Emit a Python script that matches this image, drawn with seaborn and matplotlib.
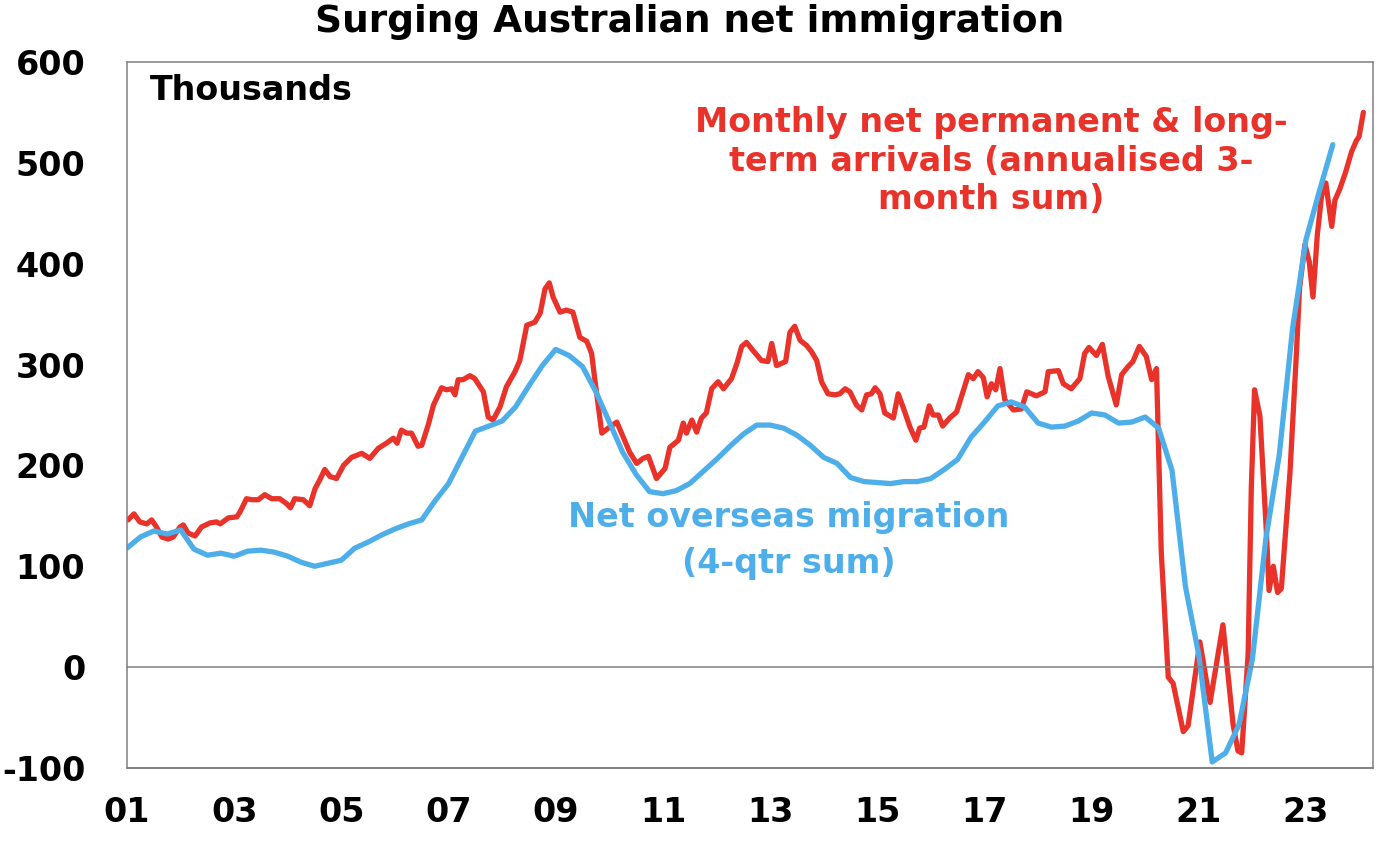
import numpy as np
import pandas as pd
import matplotlib
matplotlib.use("Agg")
import matplotlib.pyplot as plt
import seaborn as sns

# =====================
# Data (thousands)
# =====================

# Monthly net permanent & long-term arrivals (annualised 3-month sum)
plta_year = [
    2001.02, 2001.13, 2001.24, 2001.37, 2001.46, 2001.55, 2001.65, 2001.77, 2001.86, 2001.99,
    2002.05, 2002.14, 2002.27, 2002.39, 2002.55, 2002.67, 2002.74, 2002.89, 2003.05, 2003.11,
    2003.23, 2003.33, 2003.45, 2003.57, 2003.70, 2003.85, 2003.98, 2004.05, 2004.13, 2004.29,
    2004.41, 2004.51, 2004.60, 2004.69, 2004.79, 2004.91, 2005.04, 2005.19, 2005.38, 2005.53,
    2005.69, 2005.84, 2005.97, 2006.04, 2006.12, 2006.22, 2006.31, 2006.43, 2006.50, 2006.62,
    2006.72, 2006.87, 2006.96, 2007.06, 2007.12, 2007.18, 2007.27, 2007.40, 2007.49, 2007.65,
    2007.74, 2007.83, 2007.96, 2008.08, 2008.24, 2008.33, 2008.46, 2008.61, 2008.71, 2008.80,
    2008.88, 2008.95, 2009.08, 2009.20, 2009.32, 2009.45, 2009.58, 2009.67, 2009.73, 2009.86,
    2009.98, 2010.14, 2010.26, 2010.38, 2010.51, 2010.63, 2010.73, 2010.88, 2011.04, 2011.13,
    2011.29, 2011.38, 2011.44, 2011.54, 2011.63, 2011.72, 2011.81, 2011.91, 2012.03, 2012.13,
    2012.28, 2012.38, 2012.47, 2012.56, 2012.68, 2012.84, 2012.96, 2013.03, 2013.12, 2013.29,
    2013.37, 2013.46, 2013.56, 2013.68, 2013.77, 2013.87, 2013.96, 2014.08, 2014.21, 2014.30,
    2014.40, 2014.49, 2014.61, 2014.71, 2014.80, 2014.89, 2014.96, 2015.05, 2015.14, 2015.30,
    2015.39, 2015.48, 2015.61, 2015.72, 2015.79, 2015.87, 2015.97, 2016.04, 2016.14, 2016.22,
    2016.35, 2016.48, 2016.57, 2016.70, 2016.79, 2016.88, 2016.98, 2017.05, 2017.13, 2017.21,
    2017.29, 2017.38, 2017.54, 2017.69, 2017.79, 2017.97, 2018.13, 2018.19, 2018.38, 2018.47,
    2018.62, 2018.78, 2018.87, 2018.95, 2019.09, 2019.20, 2019.31, 2019.46, 2019.56, 2019.68,
    2019.77, 2019.89, 2020.02, 2020.12, 2020.21, 2020.30, 2020.43, 2020.52, 2020.71, 2020.80,
    2021.02, 2021.21, 2021.45, 2021.64, 2021.73, 2021.80, 2021.92, 2021.98, 2022.04, 2022.14,
    2022.26, 2022.31, 2022.39, 2022.47, 2022.54, 2022.70, 2022.82, 2022.88, 2022.98, 2023.06,
    2023.13, 2023.21, 2023.29, 2023.37, 2023.48, 2023.54, 2023.63, 2023.74, 2023.85, 2023.94,
    2023.99, 2024.07,
]
plta_value = [
    146, 152, 144, 142, 146, 139, 129, 127, 129, 139,
    141, 133, 130, 139, 143, 144, 142, 148, 149, 154,
    167, 166, 166, 171, 167, 167, 162, 158, 167, 166,
    160, 177, 186, 196, 189, 187, 200, 208, 212, 207,
    217, 222, 227, 222, 235, 232, 232, 219, 220, 240,
    260, 277, 275, 276, 270, 285, 285, 289, 286, 273,
    248, 245, 258, 278, 293, 304, 339, 342, 351, 375,
    381, 367, 352, 354, 352, 327, 323, 311, 285, 232,
    237, 243, 228, 213, 202, 207, 209, 187, 197, 218,
    225, 242, 232, 245, 233, 247, 252, 276, 283, 276,
    286, 301, 318, 322, 314, 304, 303, 321, 299, 303,
    332, 338, 324, 319, 313, 304, 283, 271, 270, 271,
    276, 273, 260, 255, 270, 271, 277, 271, 252, 247,
    271, 258, 238, 225, 237, 238, 259, 250, 250, 239,
    247, 253, 268, 290, 286, 293, 287, 268, 281, 275,
    296, 265, 255, 256, 273, 269, 273, 293, 294, 281,
    276, 286, 311, 317, 309, 320, 288, 260, 290, 298,
    303, 318, 308, 285, 296, 113, -10, -16, -64, -58,
    25, -35, 42, -57, -83, -85, 13, 179, 275, 249,
    135, 76, 100, 74, 78, 192, 310, 376, 419, 402,
    367, 428, 467, 480, 437, 463, 474, 491, 511, 522,
    526, 550,
]

# Net overseas migration (4-qtr sum), quarterly from 2001 Q1
nom_value = [
    118, 129, 135, 132,
    136, 117, 111, 113,
    110, 115, 116, 114,
    110, 104, 100, 103,
    106, 118, 124, 131,
    137, 142, 146, 165,
    182, 208, 234, 239,
    244, 258, 279, 299,
    315, 309, 298, 273,
    243, 213, 191, 174,
    172, 175, 182, 194,
    206, 219, 231, 240,
    240, 237, 230, 220,
    208, 202, 188, 184,
    183, 182, 184, 184,
    187, 196, 206, 228,
    243, 259, 263, 258,
    242, 238, 239, 244,
    252, 250, 242, 243,
    248, 237, 195, 80,
    12, -94, -85, -57,
    8, 127, 210, 336,
    424, 472, 518,
]
nom_year = 2001.0 + 0.25 * np.arange(len(nom_value))

year_ticks = list(range(2001, 2024, 2))
year_labels = [f"{y % 100:02d}" for y in year_ticks]
value_ticks = [-100, 0, 100, 200, 300, 400, 500, 600]

RED = "#E8322A"
BLUE = "#4DAEEA"
GREY = "#808080"

# =====================
# Plot
# =====================
sns.set_style("white")
plt.rcParams['font.family'] = ['DejaVu Sans']
plt.rcParams['font.weight'] = 'bold'
plt.rcParams['text.color'] = 'black'
plt.rcParams['xtick.labelcolor'] = 'black'
plt.rcParams['ytick.labelcolor'] = 'black'
plt.rcParams['axes.unicode_minus'] = False

fig = plt.figure(figsize=(13.96, 8.48), dpi=100)
ax = fig.add_axes([0.09097, 0.09434, 0.89255, 0.83255])

plta = pd.DataFrame({"year": plta_year, "value": plta_value})
nom = pd.DataFrame({"year": nom_year, "value": nom_value})

sns.lineplot(data=plta, x="year", y="value", color=RED, lw=3.8, ax=ax)
sns.lineplot(data=nom, x="year", y="value", color=BLUE, lw=3.8, ax=ax)

ax.set_xlim(2001, 2024.25)
ax.set_ylim(-100, 600)
ax.set_xlabel("")
ax.set_ylabel("")

# zero line carries the year ticks, frame stays around the plot
ax.spines['bottom'].set_position(('data', 0))
for s in ax.spines.values():
    s.set_color(GREY)
    s.set_linewidth(1.1)
ax.axhline(-100, color=GREY, lw=1.4, clip_on=False)

ax.set_xticks(year_ticks, year_labels)
ax.set_yticks(value_ticks)
ax.tick_params(axis='x', direction='in', length=8, width=1.1, color=GREY,
               labelcolor='black', pad=93, labelsize=24)
ax.tick_params(axis='y', length=0, pad=30, labelcolor='black', labelsize=24)

ax.text(0.0185, 0.9834, "Thousands", transform=ax.transAxes, color='black',
        ha='left', va='top', fontsize=24, fontweight='bold')
ax.text(0.6934, 0.9371, "Monthly net permanent & long-\nterm arrivals (annualised 3-\nmonth sum)",
        transform=ax.transAxes, color=RED, ha='center', va='top',
        multialignment='center', fontsize=24, fontweight='bold', linespacing=1.2)
ax.text(0.5313, 0.3776, "Net overseas migration\n(4-qtr sum)",
        transform=ax.transAxes, color=BLUE, ha='center', va='top',
        multialignment='center', fontsize=24, fontweight='bold', linespacing=1.5)

fig.text(0.4943, 0.9947, "Surging Australian net immigration", color='black',
         ha='center', va='top', fontsize=27, fontweight='bold')

fig.savefig("out.png", dpi=100)
